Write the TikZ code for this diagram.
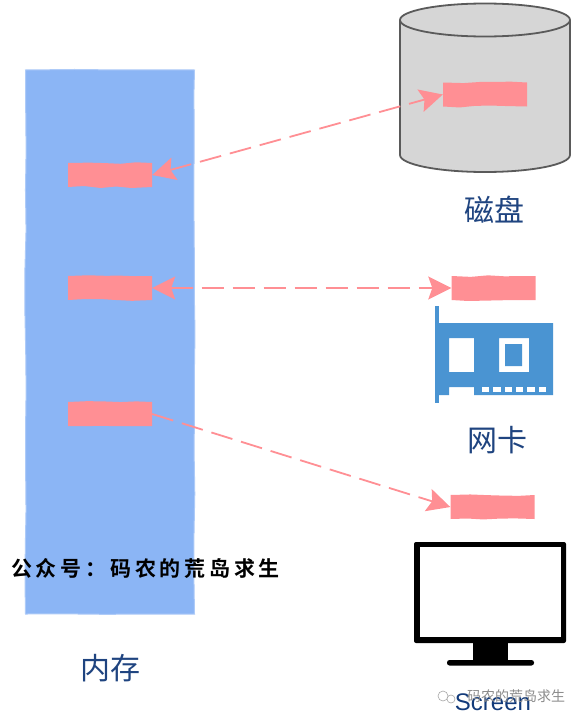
\documentclass[tikz,border=0pt]{standalone}
\usepackage{fontspec}
\setmainfont{Liberation Sans}
\newfontfamily\cjk{Noto Sans CJK SC}
\newfontfamily\cjkspaced[LetterSpace=18]{Noto Sans CJK SC Bold}
\usetikzlibrary{arrows.meta,decorations.pathmorphing}
\definecolor{membl}{HTML}{8BB5F5}
\definecolor{pinkb}{HTML}{FF8F94}
\definecolor{nicb}{HTML}{4A94D2}
\definecolor{labelb}{HTML}{1F4480}
\definecolor{screenb}{HTML}{123A7A}
\definecolor{diskg}{HTML}{D6D6D6}
\definecolor{diskl}{HTML}{5A5A5A}
\tikzset{
  wob/.style={decorate,decoration={random steps,segment length=16pt,amplitude=1pt}},
  block/.style={wob,fill=pinkb,line join=round,inner sep=0pt,minimum width=84pt,minimum height=24pt},
  memory/.style={wob,decoration={random steps,segment length=40pt,amplitude=0.7pt},fill=membl,draw=membl!70!white,line width=1pt,inner sep=0pt,minimum width=169pt,minimum height=544pt},
  link/.style={draw=pinkb,line width=1.8pt,dash pattern=on 22pt off 9pt,
    >={Stealth[length=23pt,width=23pt,inset=4pt,fill=pinkb]}},
  lab/.style={text=labelb,font=\cjk\fontsize{30}{32}\selectfont,inner sep=0pt},
  disk/.style={draw=diskl,line width=1.8pt},
}
\begin{document}
\begin{tikzpicture}[x=1pt,y=-1pt]
\pgfmathsetseed{7}
\useasboundingbox[fill=white] (0,0) rectangle (583,723);

% memory
\node[memory] (mem) at (110,342) {};
\node[block] (m1) at (110,175) {};
\node[block] (m2) at (110,288) {};
\node[block] (m3) at (110,414) {};

% disk
\fill[diskg] (400,20) -- (570,20) -- (570,155) arc[start angle=0,end angle=180,x radius=85,y radius=17] -- cycle;
\draw[disk] (400,20) -- (400,155) arc[start angle=180,end angle=0,x radius=85,y radius=17] -- (570,20);
\fill[diskg] (485,20) ellipse[x radius=85,y radius=16.5];
\draw[disk] (485,20) ellipse[x radius=85,y radius=16.5];
\node[block] (d) at (485,94.5) {};
\node[lab] (dl) at (494,210) {磁盘};

% network card
\node[block] (n) at (493.5,288) {};
\fill[nicb] (435,306) rectangle (438.5,403);
\fill[nicb,even odd rule] (438,323) -- (553,323) -- (553,395) -- (474,395) -- (474,387) -- (449,387) -- (449,395) -- (438,395) -- cycle
  (449,338) rectangle (474,372)
  (499,338) rectangle (529,372)
  (505,344) rectangle (522,366);
\foreach \xa/\xb in {482/489,493/501,505/512,516/523,527/535,539/546}
  \fill[white] (\xa,387) rectangle (\xb,392);
\node[lab] (nl) at (497,440) {网卡};

% screen
\node[block] (s) at (492.5,507) {};
\fill[black,rounded corners=2pt] (414,542) rectangle (566,643);
\fill[white] (420,547) rectangle (561,637);
\fill[black] (473,643) rectangle (508,660);
\fill[black,rounded corners=2.5pt] (447,660) rectangle (534,665.5);
\node[text=screenb,font=\fontsize{24}{26}\selectfont,inner sep=0pt] (sl) at (493,702) {Screen};

% connectors
\draw[link,<->] (m1.east) -- (d.west);
\draw[link,<->] (m2.east) -- (n.west);
\draw[link,->] (m3.east) -- (s.west);

% labels
\node[lab] (ml) at (110,668) {内存};
\node[anchor=west,inner sep=0pt,text=black,font=\cjkspaced\fontsize{21}{23}\selectfont] (wm) at (11,568) {公众号^^^^ff1a码农的荒岛求生};
\draw[gray!70,line width=0.6pt] (443,696) circle[radius=5] (451,699) circle[radius=4];
\node[anchor=west,inner sep=0pt,text=gray!90,font=\cjk\fontsize{14}{16}\selectfont] (wx) at (467,696) {码农的荒岛求生};
\end{tikzpicture}
\end{document}
